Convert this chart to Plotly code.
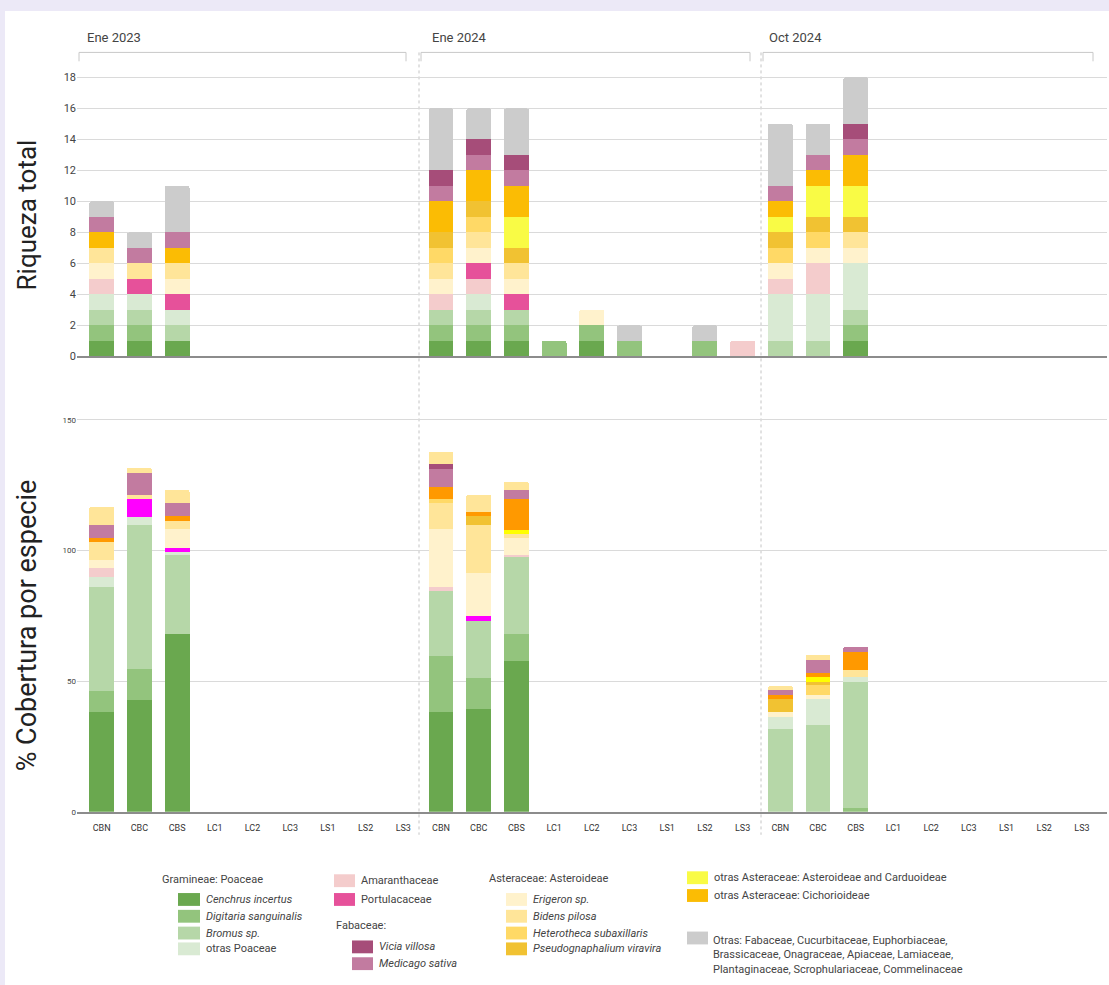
import plotly.graph_objects as go

W, H = 1109, 985

PERIODS = ["Ene 2023", "Ene 2024", "Oct 2024"]
SITES = ["CBN", "CBC", "CBS", "LC1", "LC2", "LC3", "LS1", "LS2", "LS3"]

SPECIES = [
    "Cenchrus incertus",
    "Digitaria sanguinalis",
    "Bromus sp.",
    "otras Poaceae",
    "Amaranthaceae",
    "Portulacaceae",
    "Erigeron sp.",
    "Bidens pilosa",
    "Heterotheca subaxillaris",
    "Pseudognaphalium viravira",
    "otras Asteraceae: Asteroideae and Carduoideae",
    "otras Asteraceae: Cichorioideae",
    "Medicago sativa",
    "Vicia villosa",
    "Otras",
]

# Riqueza total (number of species), 27 columns: Ene 2023 | Ene 2024 | Oct 2024
RIQ_CENCHRUS = [1, 1, 1, 0, 0, 0, 0, 0, 0,  1, 1, 1, 0, 1, 0, 0, 0, 0,  0, 0, 1, 0, 0, 0, 0, 0, 0]
RIQ_DIGITARIA = [1, 1, 0, 0, 0, 0, 0, 0, 0,  1, 1, 1, 1, 1, 1, 0, 1, 0,  0, 0, 1, 0, 0, 0, 0, 0, 0]
RIQ_BROMUS = [1, 1, 1, 0, 0, 0, 0, 0, 0,  1, 1, 1, 0, 0, 0, 0, 0, 0,  1, 1, 1, 0, 0, 0, 0, 0, 0]
RIQ_OTRAS_POACEAE = [1, 1, 1, 0, 0, 0, 0, 0, 0,  0, 1, 0, 0, 0, 0, 0, 0, 0,  3, 3, 3, 0, 0, 0, 0, 0, 0]
RIQ_AMARANTH = [1, 0, 0, 0, 0, 0, 0, 0, 0,  1, 1, 0, 0, 0, 0, 0, 0, 1,  1, 2, 0, 0, 0, 0, 0, 0, 0]
RIQ_PORTULAC = [0, 1, 1, 0, 0, 0, 0, 0, 0,  0, 1, 1, 0, 0, 0, 0, 0, 0,  0, 0, 0, 0, 0, 0, 0, 0, 0]
RIQ_ERIGERON = [1, 0, 1, 0, 0, 0, 0, 0, 0,  1, 1, 1, 0, 1, 0, 0, 0, 0,  1, 1, 1, 0, 0, 0, 0, 0, 0]
RIQ_BIDENS = [1, 1, 1, 0, 0, 0, 0, 0, 0,  1, 1, 1, 0, 0, 0, 0, 0, 0,  0, 0, 1, 0, 0, 0, 0, 0, 0]
RIQ_HETEROTHECA = [0, 0, 0, 0, 0, 0, 0, 0, 0,  1, 1, 0, 0, 0, 0, 0, 0, 0,  1, 1, 0, 0, 0, 0, 0, 0, 0]
RIQ_PSEUDOGN = [0, 0, 0, 0, 0, 0, 0, 0, 0,  1, 1, 1, 0, 0, 0, 0, 0, 0,  1, 1, 1, 0, 0, 0, 0, 0, 0]
RIQ_AST_CARD = [0, 0, 0, 0, 0, 0, 0, 0, 0,  0, 0, 2, 0, 0, 0, 0, 0, 0,  1, 2, 2, 0, 0, 0, 0, 0, 0]
RIQ_CICHOR = [1, 0, 1, 0, 0, 0, 0, 0, 0,  2, 2, 2, 0, 0, 0, 0, 0, 0,  1, 1, 2, 0, 0, 0, 0, 0, 0]
RIQ_MEDICAGO = [1, 1, 1, 0, 0, 0, 0, 0, 0,  1, 1, 1, 0, 0, 0, 0, 0, 0,  1, 1, 1, 0, 0, 0, 0, 0, 0]
RIQ_VICIA = [0, 0, 0, 0, 0, 0, 0, 0, 0,  1, 1, 1, 0, 0, 0, 0, 0, 0,  0, 0, 1, 0, 0, 0, 0, 0, 0]
RIQ_OTRAS = [1, 1, 3, 0, 0, 0, 0, 0, 0,  4, 2, 3, 0, 0, 1, 0, 1, 0,  4, 2, 3, 0, 0, 0, 0, 0, 0]

# % Cobertura por especie
COB_CENCHRUS = [38.0, 42.8, 68.0, 0, 0, 0, 0, 0, 0,  38.0, 39.4, 57.9, 0, 0, 0, 0, 0, 0,  0, 0, 0, 0, 0, 0, 0, 0, 0]
COB_DIGITARIA = [8.3, 11.7, 0, 0, 0, 0, 0, 0, 0,  21.8, 11.8, 10.1, 0, 0, 0, 0, 0, 0,  0, 0, 1.3, 0, 0, 0, 0, 0, 0]
COB_BROMUS = [39.7, 55.2, 30.2, 0, 0, 0, 0, 0, 0,  24.8, 21.8, 29.6, 0, 0, 0, 0, 0, 0,  31.5, 33.4, 48.5, 0, 0, 0, 0, 0, 0]
COB_OTRAS_POACEAE = [3.8, 3.3, 1.3, 0, 0, 0, 0, 0, 0,  0, 0, 0, 0, 0, 0, 0, 0, 0,  4.7, 9.7, 1.6, 0, 0, 0, 0, 0, 0]
COB_AMARANTH = [3.4, 0, 0, 0, 0, 0, 0, 0, 0,  1.4, 0, 0.6, 0, 0, 0, 0, 0, 0,  0, 0, 0, 0, 0, 0, 0, 0, 0]
COB_PORTULAC = [0, 6.9, 1.6, 0, 0, 0, 0, 0, 0,  0, 1.8, 0, 0, 0, 0, 0, 0, 0,  0, 0, 0, 0, 0, 0, 0, 0, 0]
COB_ERIGERON = [3.0, 0, 7.2, 0, 0, 0, 0, 0, 0,  22.3, 16.5, 6.5, 0, 0, 0, 0, 0, 0,  1.9, 1.5, 0, 0, 0, 0, 0, 0, 0]
COB_BIDENS = [7.2, 1.3, 2.9, 0, 0, 0, 0, 0, 0,  9.8, 18.3, 1.5, 0, 0, 0, 0, 0, 0,  0, 0, 3.0, 0, 0, 0, 0, 0, 0]
COB_HETEROTHECA = [0, 0, 0, 0, 0, 0, 0, 0, 0,  1.5, 0, 0, 0, 0, 0, 0, 0, 0,  0, 3.8, 0, 0, 0, 0, 0, 0, 0]
COB_PSEUDOGN = [0, 0, 0, 0, 0, 0, 0, 0, 0,  0, 3.5, 0, 0, 0, 0, 0, 0, 0,  5.0, 1.3, 0, 0, 0, 0, 0, 0, 0]
COB_AST_CARD = [0, 0, 0, 0, 0, 0, 0, 0, 0,  0, 0, 1.8, 0, 0, 0, 0, 0, 0,  0, 1.8, 0, 0, 0, 0, 0, 0, 0]
COB_CICHOR = [1.5, 0, 1.9, 0, 0, 0, 0, 0, 0,  4.8, 1.5, 11.6, 0, 0, 0, 0, 0, 0,  1.5, 1.8, 6.9, 0, 0, 0, 0, 0, 0]
COB_MEDICAGO = [5.0, 8.6, 5.2, 0, 0, 0, 0, 0, 0,  6.7, 0, 3.4, 0, 0, 0, 0, 0, 0,  2.0, 4.8, 1.9, 0, 0, 0, 0, 0, 0]
COB_VICIA = [0, 0, 0, 0, 0, 0, 0, 0, 0,  1.9, 0, 0, 0, 0, 0, 0, 0, 0,  0, 0, 0, 0, 0, 0, 0, 0, 0]
COB_OTRAS = [6.9, 1.8, 4.9, 0, 0, 0, 0, 0, 0,  4.9, 6.7, 3.4, 0, 0, 0, 0, 0, 0,  1.5, 1.9, 0, 0, 0, 0, 0, 0, 0]

RIQUEZA = [RIQ_CENCHRUS, RIQ_DIGITARIA, RIQ_BROMUS, RIQ_OTRAS_POACEAE, RIQ_AMARANTH,
           RIQ_PORTULAC, RIQ_ERIGERON, RIQ_BIDENS, RIQ_HETEROTHECA, RIQ_PSEUDOGN,
           RIQ_AST_CARD, RIQ_CICHOR, RIQ_MEDICAGO, RIQ_VICIA, RIQ_OTRAS]
COBERTURA = [COB_CENCHRUS, COB_DIGITARIA, COB_BROMUS, COB_OTRAS_POACEAE, COB_AMARANTH,
             COB_PORTULAC, COB_ERIGERON, COB_BIDENS, COB_HETEROTHECA, COB_PSEUDOGN,
             COB_AST_CARD, COB_CICHOR, COB_MEDICAGO, COB_VICIA, COB_OTRAS]

COLORS_TOP = ["#6aa84f", "#93c47d", "#b6d7a8", "#d9ead3", "#f4cccc", "#e6519a",
              "#fff2cc", "#ffe599", "#ffd966", "#f1c232", "#f9fb45", "#fbbc04",
              "#c27ba0", "#a64d79", "#cccccc"]
# the cover chart draws a few series with brighter colours
COLORS_BOTTOM = ["#6aa84f", "#93c47d", "#b6d7a8", "#d9ead3", "#f4cccc", "#ff00ff",
                 "#fff2cc", "#ffe599", "#ffd966", "#f1c232", "#ffff00", "#ff9900",
                 "#c27ba0", "#a64d79", "#ffe599"]

FONT = "Roboto"
NARROW = "Liberation Sans Narrow, Roboto"


def px(x):
    return x / W


def py(y):
    return 1 - y / H


xs = list(range(len(PERIODS) * len(SITES)))

fig = go.Figure()
for name, riq, cob, c_top, c_bot in zip(SPECIES, RIQUEZA, COBERTURA, COLORS_TOP, COLORS_BOTTOM):
    fig.add_trace(go.Bar(x=xs, y=riq, name=name, xaxis="x", yaxis="y",
                         marker=dict(color=c_top, line=dict(width=0)), showlegend=False))
    fig.add_trace(go.Bar(x=xs, y=cob, name=name, xaxis="x2", yaxis="y2",
                         marker=dict(color=c_bot, line=dict(width=0)), showlegend=False))

x_range = [-0.655, 26.665]
plot_left, plot_right = 77, 1107

shapes = [
    # white card over the lavender page
    dict(type="rect", xref="paper", yref="paper", x0=px(5), x1=1.01, y0=-0.01, y1=py(6),
         fillcolor="white", line=dict(width=0), layer="below"),
]
# dotted separators between sampling dates
for sx in (419, 761):
    shapes.append(dict(type="line", xref="paper", yref="paper", x0=px(sx), x1=px(sx),
                       y0=py(48), y1=py(840), line=dict(color="#c4c4c4", width=1, dash="dot"),
                       layer="below"))
# brackets above each date
for (bx0, bx1) in [(79, 406), (421, 750), (763, 1093)]:
    shapes.append(dict(type="path", xref="paper", yref="paper",
                       path=f"M {px(bx0)},{py(57)} L {px(bx0)},{py(48)} L {px(bx1)},{py(48)} L {px(bx1)},{py(57)}",
                       line=dict(color="#c8c8c8", width=1)))

annotations = []
for label, lx in zip(PERIODS, (85, 430, 767)):
    annotations.append(dict(text=label, xref="paper", yref="paper", x=px(lx), y=py(33),
                            xanchor="left", yanchor="middle", showarrow=False,
                            font=dict(family=FONT, size=13, color="#444")))

for title, ty, tsize in (("Riqueza total", 213, 26), ("% Cobertura por especie", 628, 27)):
    annotations.append(dict(text=title, xref="paper", yref="paper", x=px(27), y=py(ty),
                            xanchor="center", yanchor="middle", textangle=-90, showarrow=False,
                            font=dict(family=FONT, size=tsize, color="#222")))

# legend, built by hand to follow the grouped layout of the original
ITALIC = {"Cenchrus incertus", "Digitaria sanguinalis", "Bromus sp.", "Erigeron sp.",
          "Bidens pilosa", "Heterotheca subaxillaris", "Pseudognaphalium viravira",
          "Vicia villosa", "Medicago sativa"}
LEGEND_HEADERS = [("Gramineae: Poaceae", 160, 885), ("Fabaceae:", 334, 932),
                  ("Asteraceae: Asteroideae", 487, 884)]
LEGEND_ITEMS = [
    # species index, swatch left, swatch top, swatch width
    (0, 178, 899, 22), (1, 178, 916, 22), (2, 178, 933, 22), (3, 178, 949, 22),
    (4, 334, 880, 21), (5, 334, 899, 21),
    (13, 352, 947, 21), (12, 352, 964, 21),
    (6, 506, 899, 21), (7, 506, 916, 21), (8, 506, 933, 21), (9, 506, 949, 21),
    (10, 687, 877, 21), (11, 687, 895, 21),
]
LEGEND_OTRAS = ("Otras: Fabaceae, Cucurbitaceae, Euphorbiaceae,<br>"
                "Brassicaceae, Onagraceae, Apiaceae, Lamiaceae,<br>"
                "Plantaginaceae, Scrophulariaceae, Commelinaceae")

for text, lx, ly in LEGEND_HEADERS:
    annotations.append(dict(text=text, xref="paper", yref="paper", x=px(lx), y=py(ly),
                            xanchor="left", yanchor="middle", showarrow=False,
                            font=dict(family=FONT, size=11, color="#444")))

for idx, sx, sy, sw in LEGEND_ITEMS:
    shapes.append(dict(type="rect", xref="paper", yref="paper", x0=px(sx), x1=px(sx + sw),
                       y0=py(sy + 13), y1=py(sy), fillcolor=COLORS_TOP[idx], line=dict(width=0)))
    name = SPECIES[idx]
    label = f"<i>{name}</i>" if name in ITALIC else name
    annotations.append(dict(text=label, xref="paper", yref="paper", x=px(sx + sw + 4), y=py(sy + 6.5),
                            xanchor="left", yanchor="middle", showarrow=False,
                            font=dict(family=FONT, size=11, color="#444")))

shapes.append(dict(type="rect", xref="paper", yref="paper", x0=px(687), x1=px(708),
                   y0=py(951), y1=py(938), fillcolor=COLORS_TOP[14], line=dict(width=0)))
annotations.append(dict(text=LEGEND_OTRAS, xref="paper", yref="paper", x=px(711), y=py(938),
                        xanchor="left", yanchor="top", align="left", showarrow=False,
                        font=dict(family=FONT, size=11, color="#444")))

grid = "#dadada"
fig.update_layout(
    width=W,
    height=H,
    autosize=False,
    margin=dict(l=0, r=0, t=0, b=0),
    paper_bgcolor="#ece9f7",
    plot_bgcolor="rgba(0,0,0,0)",
    barmode="stack",
    bargap=0.34,
    barcornerradius=2,
    showlegend=False,
    font=dict(family=FONT, color="#444"),
    xaxis=dict(domain=[px(plot_left), px(plot_right)], range=x_range, anchor="y",
               showticklabels=False, showgrid=False, zeroline=False,
               showline=True, linecolor="#8c8c8c", linewidth=1.5),
    yaxis=dict(domain=[py(355.7), py(71.7)], range=[0, 18.1], anchor="x",
               tickvals=list(range(0, 19, 2)), gridcolor=grid, gridwidth=1,
               zeroline=False, ticks="", tickfont=dict(family=NARROW, size=11, color="#444")),
    xaxis2=dict(domain=[px(plot_left), px(plot_right)], range=x_range, anchor="y2",
                tickvals=xs, ticktext=SITES * len(PERIODS), ticks="", ticklabelstandoff=7,
                tickfont=dict(family=NARROW, size=9, color="#333"),
                showgrid=False, zeroline=False,
                showline=True, linecolor="#8c8c8c", linewidth=1.5),
    yaxis2=dict(domain=[py(816.7), py(417.4)], range=[0, 151], anchor="x2",
                tickvals=[0, 50, 100, 150], gridcolor=grid, gridwidth=1,
                zeroline=False, ticks="", tickfont=dict(family=NARROW, size=8, color="#444")),
    shapes=shapes,
    annotations=annotations,
)

# pin the plot to the window corner so the page is exactly the figure size
PIN = (
    "document.body.style.margin='0';"
    "document.documentElement.style.overflow='hidden';"
    "var gd=document.getElementById('{plot_id}');"
    "gd.style.position='fixed';gd.style.left='0';gd.style.top='0';"
)
fig.write_html("out.html", config={"displayModeBar": False}, post_script=PIN)
